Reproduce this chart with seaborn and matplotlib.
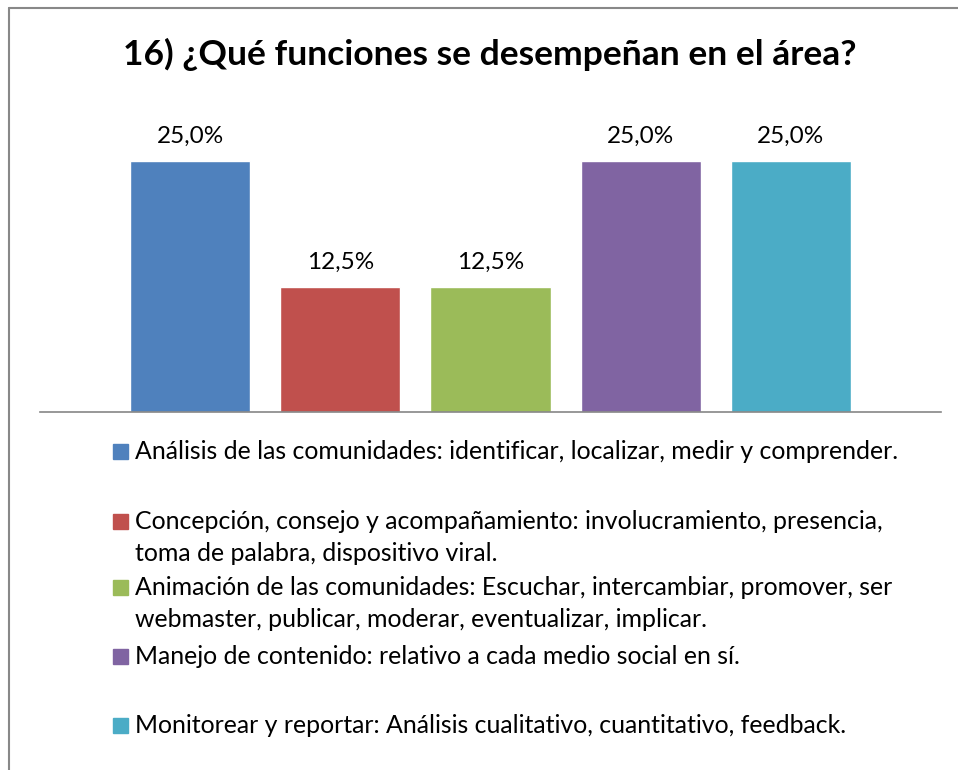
import matplotlib
matplotlib.use("Agg")
import matplotlib.pyplot as plt
import seaborn as sns
from matplotlib.patches import Rectangle
from matplotlib.lines import Line2D

# data
categories = [
    "Análisis de las comunidades: identificar, localizar, medir y comprender.",
    "Concepción, consejo y acompañamiento: involucramiento, presencia,\ntoma de palabra, dispositivo viral.",
    "Animación de las comunidades: Escuchar, intercambiar, promover, ser\nwebmaster, publicar, moderar, eventualizar, implicar.",
    "Manejo de contenido: relativo a cada medio social en sí.",
    "Monitorear y reportar: Análisis cualitativo, cuantitativo, feedback.",
]
values = [0.25, 0.125, 0.125, 0.25, 0.25]
colors = ["#4F81BD", "#C0504D", "#9BBB59", "#8064A2", "#4BACC6"]
title = "16) ¿Qué funciones se desempeñan en el área?"

# baseline (pixel y) of the first text line of each legend entry
legend_base = [459, 529, 595, 664, 733]
line_gap = 32

W, H = 958, 770
sns.set_style("white")
plt.rcParams["font.family"] = ["Lato", "DejaVu Sans"]

fig = plt.figure(figsize=(W / 100, H / 100), dpi=100)
ax = fig.add_axes([40 / W, 1 - 412 / H, 901 / W, 301 / H])

sns.barplot(x=list(range(len(values))), y=values, hue=list(range(len(values))),
            palette=colors, width=0.8, legend=False, ax=ax, saturation=1)
ax.set_xlim(-1, 5)
ax.set_ylim(0, 0.3)

for i, v in enumerate(values):
    ax.annotate(f"{v * 100:.1f}%".replace(".", ","), (i, v), xytext=(0, 13),
                textcoords="offset points", ha="center", va="baseline",
                fontsize=17.5, color="black")

for s in ["top", "right", "left"]:
    ax.spines[s].set_visible(False)
ax.spines["bottom"].set_color("#868686")
ax.spines["bottom"].set_linewidth(1.2)
ax.set_xticks([])
ax.set_yticks([])
ax.set_xlabel("")
ax.set_ylabel("")

fig.text(490 / W, 1 - 65 / H, title, ha="center", va="baseline",
         fontsize=25.5, fontweight="bold", color="black")

# legend drawn by hand to keep the uneven row spacing
for lab, col, yb in zip(categories, colors, legend_base):
    fig.add_artist(Rectangle((113 / W, 1 - yb / H), 15 / W, 15 / H,
                             transform=fig.transFigure, color=col))
    for k, part in enumerate(lab.split("\n")):
        fig.text(135 / W, 1 - (yb + k * line_gap) / H, part, ha="left",
                 va="baseline", fontsize=17.9, color="black")

# frame around the chart (only left and top edges are visible)
fig.add_artist(Line2D([9 / W, 9 / W], [0, 1 - 8 / H], color="#888888", lw=1.5,
                      transform=fig.transFigure))
fig.add_artist(Line2D([9 / W, 1], [1 - 8 / H, 1 - 8 / H], color="#888888", lw=1.5,
                      transform=fig.transFigure))

fig.savefig("out.png", dpi=100, facecolor="white")
